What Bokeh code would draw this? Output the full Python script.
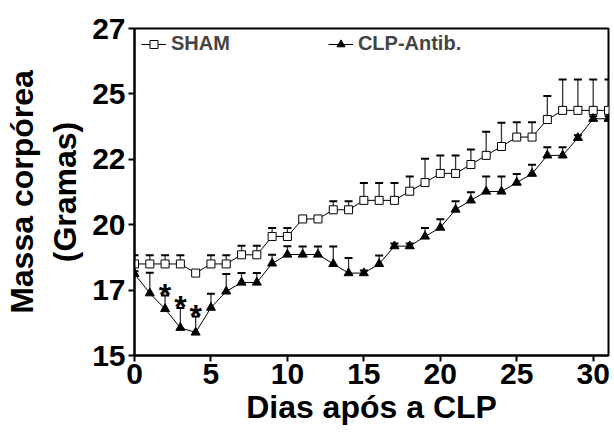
from bokeh.plotting import figure
from bokeh.models import Range1d, FixedTicker, Legend, LegendItem
from bokeh.embed import file_html
from bokeh.resources import INLINE
from bokeh.core.properties import value

days = list(range(32))
sham_mean = [18.5, 18.5, 18.5, 18.5, 18.15, 18.5, 18.5, 18.85, 18.85, 19.55, 19.55,
             20.22, 20.22, 20.57, 20.57, 20.93, 20.93, 20.93, 21.28, 21.61, 21.96,
             21.96, 22.30, 22.65, 22.99, 23.35, 23.35, 24.02, 24.37, 24.37, 24.37, 24.37]
sham_sem = [0.33, 0.33, 0.33, 0.33, 0.1, 0.33, 0.33, 0.35, 0.35, 0.32, 0.32,
            0.1, 0.1, 0.33, 0.33, 0.66, 0.66, 0.66, 0.56, 0.91, 0.69,
            0.69, 0.57, 0.9, 0.91, 0.57, 0.57, 0.9, 1.18, 1.18, 1.18, 1.18]
clp_mean = [18.12, 17.38, 16.78, 16.06, 15.88, 16.83, 17.45, 17.79, 17.79, 18.52, 18.86,
            18.86, 18.86, 18.5, 18.15, 18.15, 18.5, 19.18, 19.18, 19.55, 19.89,
            20.58, 20.93, 21.27, 21.27, 21.61, 21.95, 22.65, 22.65, 23.32, 24.05, 24.05]
clp_sem = [0.1, 0.78, 0.51, 0.76, 0.61, 0.53, 0.67, 0.36, 0.36, 0.33, 0.32,
           0.31, 0.31, 0.67, 0.58, 0.1, 0.32, 0.1, 0.1, 0.32, 0.32,
           0.32, 0.31, 0.57, 0.57, 0.33, 0.34, 0.31, 0.31, 0.1, 0.1, 0.1]
star_days = [2, 3, 4]
x_ticks = [0, 5, 10, 15, 20, 25, 30]
y_ticks = [15, 17.5, 20, 22.5, 25, 27.5]
y_tick_labels = ["15", "17", "20", "22", "25", "27"]
series_names = ["SHAM", "CLP-Antib."]
x_title = "Dias após a CLP"
y_title = "Massa corpórea\n(Gramas)"

FONT = "Liberation Sans"

p = figure(width=614, height=441, output_backend="svg", toolbar_location=None,
           x_range=Range1d(0, 31), y_range=Range1d(15, 27.5),
           min_border_left=133, min_border_right=6, min_border_top=28, min_border_bottom=86)
p.grid.visible = False
p.outline_line_color = "black"
p.outline_line_width = 2
p.background_fill_color = "white"
p.border_fill_color = "white"

sham_top = [m + s for m, s in zip(sham_mean, sham_sem)]
clp_top = [m + s for m, s in zip(clp_mean, clp_sem)]

# error bars (upper only)
for mean, top in ((sham_mean, sham_top), (clp_mean, clp_top)):
    p.segment(x0=days, y0=mean, x1=days, y1=top, line_color="#333333", line_width=1.3)
    p.scatter(x=days, y=top, marker="dash", size=8, line_color="black", line_width=2)

sham_line = p.line(days, sham_mean, line_color="black", line_width=1)
clp_line = p.line(days, clp_mean, line_color="black", line_width=1)
sham_sc = p.scatter(days, sham_mean, marker="square", size=8, fill_color="white",
                    line_color="black", line_width=1)
clp_sc = p.scatter(days, clp_mean, marker="triangle", size=9, fill_color="black",
                   line_color="black", line_width=1)

star_y = [clp_top[d] for d in star_days]
p.text(x=star_days, y=star_y, text=["*"] * len(star_days), text_font=value(FONT),
       text_font_style="bold", text_font_size="32px", text_align="center",
       text_baseline="middle", text_color="black", y_offset=-1)

legend = Legend(items=[LegendItem(label=series_names[0], renderers=[sham_line, sham_sc]),
                       LegendItem(label=series_names[1], renderers=[clp_line, clp_sc])],
                orientation="horizontal", location=(7, 300), spacing=98,
                glyph_width=25, glyph_height=20, label_standoff=5, padding=0, margin=0,
                border_line_alpha=0, background_fill_alpha=0,
                label_text_font=FONT, label_text_font_style="bold",
                label_text_font_size="20px")
p.add_layout(legend)

p.xaxis.ticker = FixedTicker(ticks=x_ticks)
p.yaxis.ticker = FixedTicker(ticks=y_ticks)
p.yaxis.major_label_overrides = dict(zip(y_ticks, y_tick_labels))
p.xaxis.axis_label = x_title
p.yaxis.axis_label = y_title
for ax in (p.xaxis, p.yaxis):
    ax.axis_line_width = 2
    ax.axis_line_color = "black"
    ax.major_tick_line_width = 2
    ax.major_tick_in = 0
    ax.major_tick_out = 6
    ax.minor_tick_line_color = None
    ax.major_label_text_font = FONT
    ax.major_label_text_font_style = "bold"
    ax.major_label_text_font_size = "30px"
    ax.major_label_text_color = "black"
    ax.axis_label_text_font = FONT
    ax.axis_label_text_font_style = "bold"
    ax.axis_label_text_font_size = "32px"
    ax.axis_label_text_color = "black"
p.yaxis.major_label_standoff = 3
p.xaxis.major_label_standoff = 2
p.yaxis.axis_label_standoff = 6
p.xaxis.axis_label_standoff = 2

open("out.html", "w").write(file_html(p, INLINE))
